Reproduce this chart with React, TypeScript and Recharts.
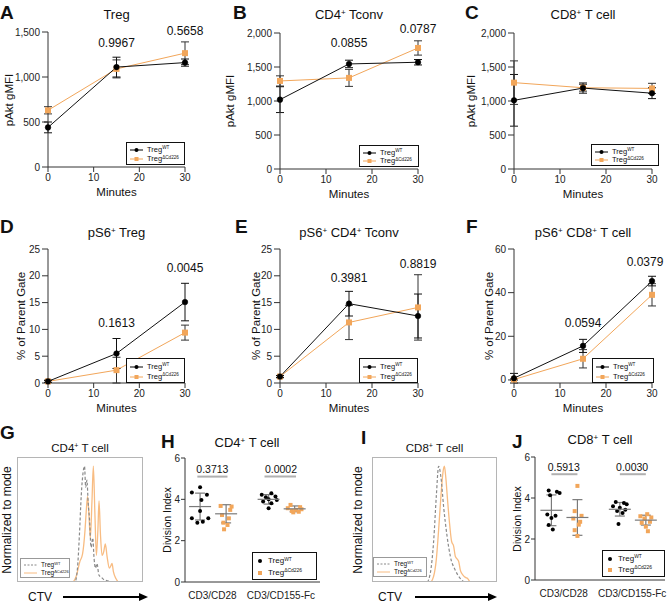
import React from 'react';
import { LineChart, Line, XAxis, YAxis, ErrorBar, ScatterChart, Scatter, ReferenceLine } from 'recharts';

const FONT = '"Liberation Sans", Arial, Helvetica, sans-serif';
const ORANGE = '#F2A65A';
const HIST_ORANGE = '#F8BC82';
const AXIS = '#333';

// time course (minutes)
const minutes = [0, 15, 30];
const xTicks = [0, 10, 20, 30];

// pAkt gMFI
const aktTregWt = [440, 1110, 1160];
const aktTregWtSd = [60, 110, 40];
const aktTregKo = [630, 1090, 1265];
const aktTregKoSd = [40, 100, 125];
const aktCd4Wt = [1020, 1545, 1570];
const aktCd4WtSd = [190, 55, 40];
const aktCd4Ko = [1295, 1340, 1780];
const aktCd4KoSd = [75, 125, 105];
const aktCd8Wt = [1010, 1190, 1115];
const aktCd8WtSd = [380, 75, 80];
const aktCd8Ko = [1270, 1195, 1185];
const aktCd8KoSd = [320, 50, 75];

// pS6+ % of parent gate
const s6TregWt = [0.3, 5.5, 15.1];
const s6TregWtSd = [0.2, 2.8, 3.5];
const s6TregKo = [0.3, 2.4, 9.4];
const s6TregKoSd = [0.2, 2.4, 1.4];
const s6Cd4Wt = [1.2, 14.8, 12.5];
const s6Cd4WtSd = [0.2, 2.3, 4.1];
const s6Cd4Ko = [1.2, 11.3, 14.1];
const s6Cd4KoSd = [0.2, 3.2, 6.1];
const s6Cd8Wt = [0.8, 15.6, 45.3];
const s6Cd8WtSd = [2.2, 3.0, 2.2];
const s6Cd8Ko = [0.2, 9.7, 39.0];
const s6Cd8KoSd = [0.3, 4.2, 5.1];

// p values at 15 and 30 min
const pAktTreg = ['0.9967', '0.5658'];
const pAktCd4 = ['0.0855', '0.0787'];
const pS6Treg = ['0.1613', '0.0045'];
const pS6Cd4 = ['0.3981', '0.8819'];
const pS6Cd8 = ['0.0594', '0.0379'];

// CTV histograms (channel, % of mode)
const gWtX = [0, 46, 48, 49.5, 51, 52.5, 53.6, 54.5, 55.5, 56.5, 57.5, 58.8, 60.1, 61.2, 62.3, 63.5, 65, 67, 69, 72, 76, 100];
const gWtY = [0, 0, 12, 40, 75, 95, 100, 82, 88, 68, 55, 30, 38, 20, 12, 16, 6, 4, 2, 1, 0, 0];
const gKoX = [0, 44, 47, 50, 52, 54, 55, 56, 57, 58.2, 59.5, 60.6, 61.8, 63, 64.2, 65.1, 66.2, 67.5, 68.8, 70.1, 71.5, 73.3, 74.5, 75.4, 76.5, 78.5, 81, 100];
const gKoY = [0, 0, 5, 18, 24, 45, 62, 74, 60, 38, 70, 100, 60, 23, 45, 70, 42, 23, 26, 33, 22, 12, 14, 16, 9, 3, 0, 0];
const iWtX = [0, 44, 46.7, 49.3, 51.5, 53.3, 55.2, 57.3, 60, 62.7, 66.7, 70.7, 74.7, 100];
const iWtY = [0, 0, 8, 35, 75, 100, 90, 65, 40, 22, 10, 3, 0, 0];
const iKoX = [0, 46.7, 49.3, 51.5, 53.3, 55.2, 56.8, 57.9, 58.9, 60.5, 62.1, 63.7, 65.3, 66.7, 68, 69.3, 70.7, 72.8, 74.7, 76.5, 78.7, 100];
const iKoY = [0, 0, 5, 20, 45, 75, 95, 100, 92, 70, 50, 35, 31, 22, 20, 18, 10, 6, 4, 3, 0, 0];

// division index
const stimLabels = ['CD3/CD28', 'CD3/CD155-Fc'];
const hWt28 = [4.59, 4.33, 4.22, 3.97, 3.44, 3.08, 3.08, 2.92, 2.87];
const hWt28Jit = [0, -0.12, 0.1, 0.02, 0, -0.12, 0.12, 0.04, -0.04];
const hKo28 = [3.68, 3.65, 3.49, 3.24, 3.08, 2.87, 2.76, 2.55];
const hKo28Jit = [-0.08, 0.08, 0.06, -0.06, 0.04, -0.04, 0.02, -0.03];
const hWt155 = [4.3, 4.22, 4.14, 4.1, 4.0, 3.97, 3.89, 3.81, 3.57];
const hWt155Jit = [0.04, -0.1, 0.1, -0.04, 0.0, 0.12, -0.08, 0.04, 0.0];
const hKo155 = [3.73, 3.62, 3.57, 3.52, 3.49, 3.44, 3.40, 3.37];
const hKo155Jit = [-0.06, 0.08, -0.1, 0.1, 0.02, -0.04, 0.06, -0.02];
const hMean = [3.65, 3.30, 4.00, 3.54];
const hSd = [0.65, 0.44, 0.23, 0.14];
const hP = ['0.3713', '0.0002'];

const jWt28 = [4.36, 4.30, 4.25, 4.14, 3.20, 3.13, 3.03, 2.68, 2.46];
const jWt28Jit = [-0.04, 0.08, 0.12, -0.02, -0.06, 0.06, 0.0, -0.04, 0.02];
const jKo28 = [4.59, 3.36, 3.13, 3.00, 2.84, 2.70, 2.43, 2.15];
const jKo28Jit = [0, -0.04, 0.06, -0.06, 0.04, 0.02, -0.04, 0.0];
const jWt155 = [3.81, 3.76, 3.70, 3.60, 3.53, 3.43, 3.37, 3.27, 2.73];
const jWt155Jit = [-0.06, 0.06, 0.1, -0.1, 0.0, 0.08, -0.04, 0.04, -0.02];
const jKo155 = [3.21, 3.11, 3.05, 3.00, 2.84, 2.79, 2.60, 2.38];
const jKo155Jit = [0.02, -0.08, 0.08, -0.02, 0.06, -0.06, 0.0, 0.03];
const jMean = [3.40, 3.05, 3.45, 2.92];
const jSd = [0.75, 0.87, 0.33, 0.24];
const jP = ['0.5913', '0.0030'];

const WT_OFF = -0.18;
const KO_OFF = 0.2;

function Sup({ children }: any) {
  return <span style={{ fontSize: '0.62em', position: 'relative', top: '-0.55em' }}>{children}</span>;
}

function Txt({ x, y, size = 12, align = 'middle', bold = false, rotate = false, color = '#111', children }: any) {
  const tx = align === 'middle' ? '-50%' : align === 'end' ? '-100%' : '0';
  return (
    <div
      style={{
        position: 'absolute',
        left: x,
        top: y,
        transform: `translate(${tx}, -50%)${rotate ? ' rotate(-90deg)' : ''}`,
        fontSize: size,
        fontWeight: bold ? 700 : 400,
        fontFamily: FONT,
        color,
        whiteSpace: 'nowrap',
        lineHeight: 1,
      }}
    >
      {children}
    </div>
  );
}

const SquareDot = (props: any) => {
  const { cx, cy, index } = props;
  if (cx == null || cy == null) return null;
  return <rect key={`sq-${index}`} x={cx - 3} y={cy - 3} width={6} height={6} fill={ORANGE} />;
};

function LegendBox({ x, y, w, h, size, kind }: any) {
  const border = kind === 'hist' ? '1px solid #999' : '1.3px solid #111';
  const rows = [
    { color: '#000', label: 'WT' },
    { color: kind === 'hist' ? HIST_ORANGE : ORANGE, label: '\u0394Cd226' },
  ];
  const sampleW = kind === 'dot' ? 8 : 13;
  return (
    <div style={{ position: 'absolute', left: x, top: y, width: w, height: h, border, boxSizing: 'border-box', background: '#fff' }}>
      {rows.map((r, i) => {
        const cy = h * (i === 0 ? 0.3 : 0.7);
        return (
          <div key={i}>
            <svg style={{ position: 'absolute', left: 3, top: cy - 4 }} width={sampleW} height={8}>
              {kind === 'line' && <line x1={0} x2={sampleW} y1={4} y2={4} stroke={r.color} strokeWidth={1} />}
              {kind === 'hist' && (
                <line x1={0} x2={sampleW} y1={4} y2={4} stroke={i === 0 ? '#888' : HIST_ORANGE} strokeWidth={1} strokeDasharray={i === 0 ? '2 1.5' : undefined} />
              )}
              {kind !== 'hist' && (i === 0
                ? <circle cx={sampleW / 2} cy={4} r={2} fill="#000" />
                : <rect x={sampleW / 2 - 2} y={2} width={4} height={4} fill={ORANGE} />)}
            </svg>
            <div style={{ position: 'absolute', left: sampleW + 7, top: cy, transform: 'translateY(-50%)', fontSize: size, fontFamily: FONT, lineHeight: 1, whiteSpace: 'nowrap', color: '#111' }}>
              Treg<Sup>{r.label}</Sup>
            </div>
          </div>
        );
      })}
    </div>
  );
}

const tickStyle = { fill: '#222', fontSize: 10, fontFamily: FONT };

function TimePanel({ p }: any) {
  const data = minutes.map((m, i) => ({ m, wt: p.wt[i], wtSd: p.wtSd[i], ko: p.ko[i], koSd: p.koSd[i] }));
  const padL = 45, padT = 10, padR = 12, padB = 30;
  const w = p.x1 - p.x0;
  const h = p.y1 - p.y0;
  const xAt = (m: number) => p.x0 + (m / 30) * w;
  return (
    <>
      <div style={{ position: 'absolute', left: p.x0 - padL, top: p.y0 - padT }}>
        <LineChart width={w + padL + padR} height={h + padT + padB} data={data} margin={{ top: padT, right: padR, left: 0, bottom: 0 }}>
          <XAxis dataKey="m" type="number" domain={[0, 30]} ticks={xTicks} height={padB} tickSize={5}
            axisLine={{ stroke: AXIS }} tickLine={{ stroke: AXIS }} tick={tickStyle} />
          <YAxis type="number" domain={p.domain} ticks={p.ticks} width={padL} tickSize={6}
            axisLine={{ stroke: AXIS }} tickLine={{ stroke: AXIS }} tick={tickStyle}
            tickFormatter={(v: number) => v.toLocaleString('en-US')} />
          <Line dataKey="ko" stroke={ORANGE} strokeWidth={1} dot={SquareDot} activeDot={false} isAnimationActive={false}>
            <ErrorBar dataKey="koSd" direction="y" width={4} stroke="#333" strokeWidth={1} />
          </Line>
          <Line dataKey="wt" stroke="#111" strokeWidth={1} dot={{ r: 2.8, fill: '#000', stroke: '#000', strokeWidth: 0.5 }} activeDot={false} isAnimationActive={false}>
            <ErrorBar dataKey="wtSd" direction="y" width={4} stroke="#111" strokeWidth={1} />
          </Line>
        </LineChart>
      </div>
      <Txt x={p.letterX} y={p.letterY} size={19} bold align="start">{p.id}</Txt>
      <Txt x={(p.x0 + p.x1) / 2} y={p.titleY} size={13}>{p.title}</Txt>
      <Txt x={p.ylabelX} y={(p.y0 + p.y1) / 2} size={11.5} rotate>{p.ylabel}</Txt>
      <Txt x={(p.x0 + p.x1) / 2} y={p.y1 + 26} size={11.5}>Minutes</Txt>
      {p.pvals && p.pvals.map((t: string, i: number) => (
        <Txt key={t} x={Math.min(xAt(minutes[i + 1]), 645)} y={p.pY[i]} size={12}>{t}</Txt>
      ))}
      <LegendBox {...p.legend} size={7.5} kind="line" />
    </>
  );
}

const timePanels = [
  { id: 'A', x0: 48, x1: 185, y0: 32, y1: 167, domain: [0, 1500], ticks: [0, 500, 1000, 1500],
    wt: aktTregWt, wtSd: aktTregWtSd, ko: aktTregKo, koSd: aktTregKoSd, pvals: pAktTreg, pY: [43, 31],
    title: 'Treg', titleY: 14, ylabel: 'pAkt gMFI', ylabelX: 10, letterX: 0, letterY: 12,
    legend: { x: 126, y: 142, w: 59, h: 23 } },
  { id: 'B', x0: 280, x1: 418, y0: 33, y1: 169, domain: [0, 2000], ticks: [0, 500, 1000, 1500, 2000],
    wt: aktCd4Wt, wtSd: aktCd4WtSd, ko: aktCd4Ko, koSd: aktCd4KoSd, pvals: pAktCd4, pY: [43, 29],
    title: <>CD4<Sup>+</Sup> Tconv</>, titleY: 15, ylabel: 'pAkt gMFI', ylabelX: 231, letterX: 233, letterY: 12,
    legend: { x: 359, y: 145, w: 60, h: 22 } },
  { id: 'C', x0: 514, x1: 652, y0: 33, y1: 169, domain: [0, 2000], ticks: [0, 500, 1000, 1500, 2000],
    wt: aktCd8Wt, wtSd: aktCd8WtSd, ko: aktCd8Ko, koSd: aktCd8KoSd, pvals: null, pY: [],
    title: <>CD8<Sup>+</Sup> T cell</>, titleY: 15, ylabel: 'pAkt gMFI', ylabelX: 472, letterX: 465, letterY: 12,
    legend: { x: 591, y: 144, w: 68, h: 22 } },
  { id: 'D', x0: 48, x1: 185, y0: 249, y1: 383, domain: [0, 25], ticks: [0, 5, 10, 15, 20, 25],
    wt: s6TregWt, wtSd: s6TregWtSd, ko: s6TregKo, koSd: s6TregKoSd, pvals: pS6Treg, pY: [323, 268],
    title: <>pS6<Sup>+</Sup> Treg</>, titleY: 233, ylabel: '% of Parent Gate', ylabelX: 22, letterX: 0, letterY: 226,
    legend: { x: 126, y: 358, w: 59, h: 25 } },
  { id: 'E', x0: 280, x1: 418, y0: 249, y1: 383, domain: [0, 25], ticks: [0, 5, 10, 15, 20, 25],
    wt: s6Cd4Wt, wtSd: s6Cd4WtSd, ko: s6Cd4Ko, koSd: s6Cd4KoSd, pvals: pS6Cd4, pY: [278, 264],
    title: <>pS6<Sup>+</Sup> CD4<Sup>+</Sup> Tconv</>, titleY: 233, ylabel: '% of Parent Gate', ylabelX: 257, letterX: 235, letterY: 226,
    legend: { x: 359, y: 358, w: 59, h: 25 } },
  { id: 'F', x0: 514, x1: 652, y0: 249, y1: 383, domain: [0, 60], ticks: [0, 20, 40, 60],
    wt: s6Cd8Wt, wtSd: s6Cd8WtSd, ko: s6Cd8Ko, koSd: s6Cd8KoSd, pvals: pS6Cd8, pY: [323, 262],
    title: <>pS6<Sup>+</Sup> CD8<Sup>+</Sup> T cell</>, titleY: 233, ylabel: '% of Parent Gate', ylabelX: 490, letterX: 466, letterY: 226,
    legend: { x: 592, y: 358, w: 62, h: 25 } },
];

function HistPanel({ p }: any) {
  const wtData = p.wtX.map((x: number, i: number) => ({ x, y: p.wtY[i] }));
  const koData = p.koX.map((x: number, i: number) => ({ x, y: p.koY[i] }));
  const w = p.x1 - p.x0;
  const h = p.y1 - p.y0;
  return (
    <>
      <div style={{ position: 'absolute', left: p.x0, top: p.y0 }}>
        <LineChart width={w} height={h} margin={{ top: 0, right: 0, left: 0, bottom: 0 }}>
          <XAxis dataKey="x" type="number" domain={[0, 100]} hide />
          <YAxis type="number" domain={[0, 108]} hide />
          <Line data={koData} dataKey="y" type="monotone" stroke={HIST_ORANGE} strokeWidth={1.3} dot={false} activeDot={false} isAnimationActive={false} />
          <Line data={wtData} dataKey="y" type="monotone" stroke="#8a8a8a" strokeWidth={1.2} strokeDasharray="3 2" dot={false} activeDot={false} isAnimationActive={false} />
        </LineChart>
      </div>
      <div style={{ position: 'absolute', left: p.x0, top: p.y0, width: w, height: h, border: '1px solid #b5b5b5', boxSizing: 'border-box' }} />
      <Txt x={p.letterX} y={p.letterY} size={19} bold align="start">{p.id}</Txt>
      <Txt x={(p.x0 + p.x1) / 2} y={449} size={11.5}>{p.title}</Txt>
      <Txt x={p.ylabelX} y={(p.y0 + p.y1) / 2} size={12} rotate>Normalized to mode</Txt>
      <Txt x={p.ctvX} y={597} size={12} align="start">CTV</Txt>
      <LegendBox {...p.legend} size={6.5} kind="hist" />
    </>
  );
}

const histPanels = [
  { id: 'G', x0: 17, x1: 143, y0: 457, y1: 582, wtX: gWtX, wtY: gWtY, koX: gKoX, koY: gKoY,
    title: <>CD4<Sup>+</Sup> T cell</>, ylabelX: 7, ctvX: 28, letterX: 0, letterY: 432,
    legend: { x: 20, y: 558, w: 50, h: 20 } },
  { id: 'I', x0: 372, x1: 497, y0: 457, y1: 582, wtX: iWtX, wtY: iWtY, koX: iKoX, koY: iKoY,
    title: <>CD8<Sup>+</Sup> T cell</>, ylabelX: 358, ctvX: 378, letterX: 361, letterY: 437,
    legend: { x: 373, y: 557, w: 54, h: 20 } },
];

const MeanMark = (props: any) => {
  const { cx, cy } = props;
  return <line x1={cx - 11} x2={cx + 11} y1={cy} y2={cy} stroke="#7a7a7a" strokeWidth={1.2} />;
};
const WtDot = (props: any) => <circle cx={props.cx} cy={props.cy} r={2} fill="#000" />;
const KoDot = (props: any) => <rect x={props.cx - 2} y={props.cy - 2} width={4} height={4} fill={ORANGE} />;

function DotPanel({ p }: any) {
  const mk = (vals: number[], jit: number[], g: number, off: number) => vals.map((y, i) => ({ x: g + off + jit[i], y }));
  const wtPts = [...mk(p.wt28, p.wt28Jit, 0, WT_OFF), ...mk(p.wt155, p.wt155Jit, 1, WT_OFF)];
  const koPts = [...mk(p.ko28, p.ko28Jit, 0, KO_OFF), ...mk(p.ko155, p.ko155Jit, 1, KO_OFF)];
  const groupX = [WT_OFF, KO_OFF, 1 + WT_OFF, 1 + KO_OFF];
  const meanPts = p.mean.map((y: number, i: number) => ({ x: groupX[i], y, sd: p.sd[i] }));
  const padL = 30, padT = 10, padR = 2, padB = 22;
  const w = p.x1 - p.x0;
  const h = p.y1 - p.y0;
  const unit = w / (p.xDomain[1] - p.xDomain[0]);
  const xAt = (v: number) => p.x0 + (v - p.xDomain[0]) * unit;
  return (
    <>
      <div style={{ position: 'absolute', left: p.x0 - padL, top: p.y0 - padT }}>
        <ScatterChart width={w + padL + padR} height={h + padT + padB} margin={{ top: padT, right: padR, left: 0, bottom: 0 }}>
          <XAxis dataKey="x" type="number" domain={p.xDomain} ticks={[0, 1]} height={padB} tickLine={false} tickMargin={4}
            axisLine={{ stroke: AXIS }} tick={tickStyle} tickFormatter={(v: number) => stimLabels[v] ?? ''} />
          <YAxis dataKey="y" type="number" domain={[0, 6]} ticks={[0, 2, 4, 6]} width={padL} tickSize={4} tickMargin={1}
            axisLine={{ stroke: AXIS }} tickLine={{ stroke: AXIS }} tick={tickStyle} />
          {p.sig.map((s: number[], i: number) => (
            <ReferenceLine key={i} segment={[{ x: i + s[0], y: p.sigY }, { x: i + s[1], y: p.sigY }]} stroke="#b0b0b0" strokeWidth={2} />
          ))}
          <Scatter data={wtPts} shape={WtDot} isAnimationActive={false} />
          <Scatter data={koPts} shape={KoDot} isAnimationActive={false} />
          <Scatter data={meanPts} shape={MeanMark} isAnimationActive={false}>
            <ErrorBar dataKey="sd" direction="y" width={5} stroke="#7a7a7a" strokeWidth={1.2} />
          </Scatter>
        </ScatterChart>
      </div>
      <Txt x={p.letterX} y={p.letterY} size={19} bold align="start">{p.id}</Txt>
      <Txt x={p.titleX} y={p.titleY} size={13}>{p.title}</Txt>
      <Txt x={p.ylabelX} y={(p.y0 + p.y1) / 2} size={10.5} rotate>Division Index</Txt>
      {p.pvals.map((t: string, i: number) => (
        <Txt key={t} x={xAt(i)} y={p.pY} size={10.5}>{t}</Txt>
      ))}
      <LegendBox {...p.legend} size={8} kind="dot" />
    </>
  );
}

const dotPanels = [
  { id: 'H', x0: 185, x1: 320, y0: 458, y1: 582, xDomain: [-0.4, 1.57],
    wt28: hWt28, wt28Jit: hWt28Jit, ko28: hKo28, ko28Jit: hKo28Jit, wt155: hWt155, wt155Jit: hWt155Jit, ko155: hKo155, ko155Jit: hKo155Jit,
    mean: hMean, sd: hSd, pvals: hP, pY: 469, sig: [[-0.22, 0.22], [-0.24, 0.22]], sigY: 5.1,
    title: <>CD4<Sup>+</Sup> T cell</>, titleX: 247, titleY: 443, ylabelX: 167, letterX: 161, letterY: 441,
    legend: { x: 252, y: 552, w: 65, h: 28 } },
  { id: 'J', x0: 535, x1: 665, y0: 457, y1: 580, xDomain: [-0.42, 1.48],
    wt28: jWt28, wt28Jit: jWt28Jit, ko28: jKo28, ko28Jit: jKo28Jit, wt155: jWt155, wt155Jit: jWt155Jit, ko155: jKo155, ko155Jit: jKo155Jit,
    mean: jMean, sd: jSd, pvals: jP, pY: 467, sig: [[-0.18, 0.2], [-0.18, 0.2]], sigY: 5.16,
    title: <>CD8<Sup>+</Sup> T cell</>, titleX: 600, titleY: 440, ylabelX: 517, letterX: 512, letterY: 441,
    legend: { x: 602, y: 550, w: 63, h: 27 } },
];

export default function App() {
  return (
    <div style={{ position: 'absolute', left: 0, top: 0, width: 667, height: 605, background: '#fff', overflow: 'hidden', fontFamily: FONT }}>
      {timePanels.map((p) => <TimePanel key={p.id} p={p} />)}
      {histPanels.map((p) => <HistPanel key={p.id} p={p} />)}
      {dotPanels.map((p) => <DotPanel key={p.id} p={p} />)}
      <svg style={{ position: 'absolute', left: 0, top: 0, pointerEvents: 'none' }} width={667} height={605}>
        <line x1={63} x2={140} y1={597} y2={597} stroke="#000" strokeWidth={2} />
        <polygon points="148,597 139,593 139,601" fill="#000" />
        <line x1={415} x2={489} y1={597} y2={597} stroke="#000" strokeWidth={2} />
        <polygon points="497,597 488,593 488,601" fill="#000" />
      </svg>
    </div>
  );
}
